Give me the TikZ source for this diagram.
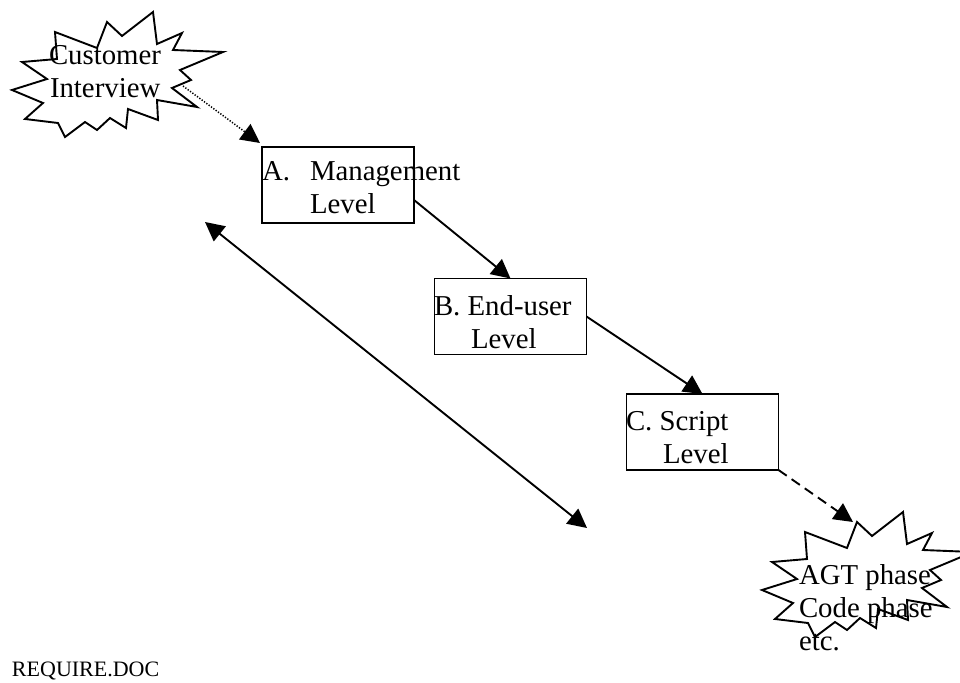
\documentclass[tikz,border=0pt]{standalone}
\usepackage{fontspec}
\setmainfont{Liberation Serif}
\usetikzlibrary{arrows.meta,calc}
\begin{document}
\begin{tikzpicture}[x=1pt,y=-1pt,
  every node/.style={inner sep=0pt,outer sep=0pt},
  txt/.style={anchor=base west,font=\fontsize{28.8}{33}\selectfont},
  smalltxt/.style={anchor=base west,font=\fontsize{22}{26}\selectfont},
  levelbox/.style={draw,line width=1.9pt,rectangle,minimum width=152pt,minimum height=76pt},
  starline/.style={draw,line width=1.9pt,line join=miter},
  tip/.style={-{Triangle[length=19pt,width=19pt]}},
  biarrow/.style={{Triangle[length=19pt,width=19pt]}-{Triangle[length=19pt,width=19pt]},line width=1.9pt},
  solidarrow/.style={tip,line width=1.9pt},
  dottedarrow/.style={tip,line width=1.5pt,dash pattern=on 1.3pt off 1.6pt},
  dashedarrow/.style={tip,line width=1.9pt,dash pattern=on 10pt off 6pt},
  explosion/.pic={
    \path[starline] (107,22) -- (122,36) -- (153,12) -- (157,44) -- (182,33)
      -- (173,50) -- (223,52) -- (180,70) -- (191,80) -- (172,88)
      -- (197,107) -- (157,100) -- (158,120) -- (128,109) -- (126,128)
      -- (110,118) -- (97,130) -- (85,122) -- (65,137) -- (58,123)
      -- (25,119) -- (43,103) -- (12,90) -- (47,79) -- (22,62)
      -- (57,59) -- (55,32) -- (97,48) -- cycle;
  }]
\useasboundingbox (0,0) rectangle (960,682);

% bursts
\pic at (0,0) {explosion};
\pic at (750,500) {explosion};

% burst texts
\node[txt] (cust) at (49,65) {Customer};
\node[txt] (intv) at (50,98) {Interview};
\node[txt] (agt) at (799,584) {AGT phase};
\node[txt] (code) at (799,617) {Code phase};
\node[txt] (etc) at (799,650) {etc.};

% level boxes
\node[levelbox] (A) at (338,185) {};
\node[levelbox] (B) at (510.5,316.5) {};
\node[levelbox] (C) at (702.5,432) {};

\node[txt] (Alet) at (262,180) {A.};
\node[txt] (Amgmt) at (310,180) {Management};
\node[txt] (Alvl) at (310,213) {Level};
\node[txt] (Bend) at (434,315) {B. End-user};
\node[txt] (Blvl) at (471,348) {Level};
\node[txt] (Cscr) at (626,430) {C. Script};
\node[txt] (Clvl) at (663,463) {Level};

% file name
\node[smalltxt] (fname) at (12,676) {REQUIRE.DOC};

% connector ends
\coordinate (custout) at (183,86);
\coordinate (agtin) at (853,522);
\coordinate (spanU) at (205,222);
\coordinate (spanL) at (587,528);

% connectors
\draw[dottedarrow] (custout) -- ($(A.north west)+(-2,-4)$);
\draw[solidarrow] ($(A.east)+(0,15)$) -- (B.north);
\draw[solidarrow] (B.east) -- (C.north);
\draw[dashedarrow] (C.south east) -- (agtin);
\draw[biarrow] (spanU) -- (spanL);
\end{tikzpicture}
\end{document}
